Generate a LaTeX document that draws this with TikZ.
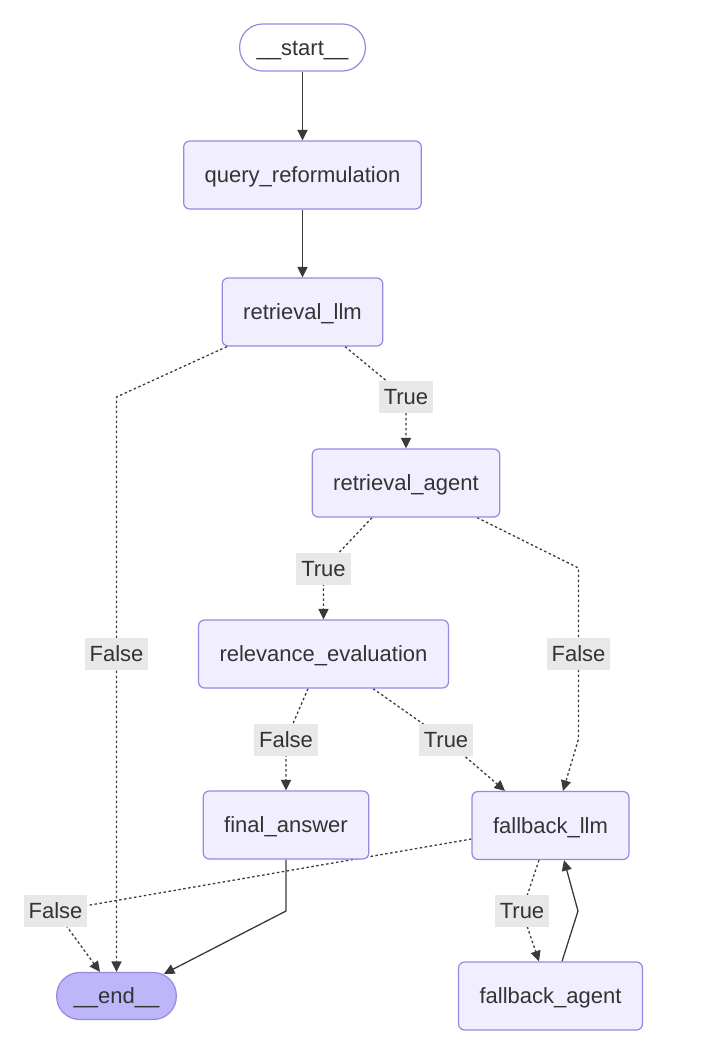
\documentclass[tikz,border=0pt]{standalone}
\usepackage{fontspec}
\setmainfont{Liberation Sans}
\usetikzlibrary{arrows.meta,calc,backgrounds}
\definecolor{nodefill}{HTML}{F1EFFF}
\definecolor{nodedraw}{HTML}{9C86E0}
\definecolor{endfill}{HTML}{BDB6F8}
\definecolor{lblfill}{HTML}{E8E8E8}
\definecolor{txt}{HTML}{333333}
\definecolor{edgecol}{HTML}{3A3A3A}
\begin{document}
\begin{tikzpicture}[x=1pt,y=-1pt,
  font=\fontsize{22}{26}\selectfont, text=txt,
  box/.style={draw=nodedraw, fill=nodefill, line width=1.2pt, rounded corners=6pt,
    minimum height=68pt, inner xsep=21pt, inner ysep=0pt, text height=19pt, text depth=4pt},
  term/.style={draw=nodedraw, line width=1.2pt, rounded corners=23pt,
    minimum height=47pt, inner xsep=17pt, inner ysep=0pt, text height=19pt, text depth=4pt},
  lbl/.style={fill=lblfill, minimum height=32pt, inner xsep=5pt, inner ysep=0pt,
    text height=19pt, text depth=4pt},
  solidedge/.style={draw=edgecol, line width=1.3pt, -{Triangle[length=10.5pt,width=10pt]}},
  dotedge/.style={draw=edgecol, line width=1.3pt, dash pattern=on 2.5pt off 2.5pt,
    -{Triangle[length=10.5pt,width=10pt]}}
]
\useasboundingbox (0,0) rectangle (702,1060);

% nodes
\node[term, fill=white] (start) at (302.5,47.5) {\_\_start\_\_};
\node[box] (qr) at (302.5,175) {query\_reformulation};
\node[box] (rllm) at (302.5,312) {retrieval\_llm};
\node[box] (ragent) at (406,483) {retrieval\_agent};
\node[box] (releval) at (323.5,654) {relevance\_evaluation};
\node[box] (final) at (286,825) {final\_answer};
\node[box] (fbllm) at (550.5,825.5) {fallback\_llm};
\node[box] (fbagent) at (550.5,996) {fallback\_agent};
\node[term, fill=endfill] (endn) at (116.5,996) {\_\_end\_\_};

% edge labels
\node[lbl] (lF1) at (116.5,654) {False};
\node[lbl] (lT1) at (406,397) {True};
\node[lbl] (lT2) at (323.5,569) {True};
\node[lbl] (lF2) at (578.5,654) {False};
\node[lbl] (lF3) at (286,740) {False};
\node[lbl] (lT3) at (446,740) {True};
\node[lbl] (lF4) at (55.5,911) {False};
\node[lbl] (lT4) at (522,911) {True};

% bend points
\coordinate (b1) at (116.5,397);
\coordinate (b2) at (578.5,568);
\coordinate (b3) at (578.5,739);
\coordinate (b4) at (286,911);
\coordinate (b5) at (578,911);

\begin{scope}[on background layer]
\draw[solidedge] (start) -- (qr);
\draw[solidedge] (qr) -- (rllm);
\draw[dotedge] ($(rllm.south)+(-75.5,0)$) -- (b1) -- (lF1.center) -- (endn.north);
\draw[dotedge] ($(rllm.south)+(42.5,0)$) -- (lT1.center) -- (ragent.north);
\draw[dotedge] ($(ragent.south)+(-34,0)$) -- (lT2.center) -- (releval.north);
\draw[dotedge] ($(ragent.south)+(71,0)$) -- (b2) -- (lF2.center) -- (b3) -- ($(fbllm.north)+(12.5,0)$);
\draw[dotedge] ($(releval.south)+(-15.5,0)$) -- (lF3.center) -- (final.north);
\draw[dotedge] ($(releval.south)+(49.5,0)$) -- (lT3.center) -- ($(fbllm.north)+(-45.5,0)$);
\draw[solidedge] (final.south) -- (b4) -- ($(endn.north east)+(-13,2)$);
\draw[dotedge] ($(fbllm.west)+(0,13.5)$) -- (lF4.center) -- ($(endn.north)+(-16.5,0)$);
\draw[dotedge] ($(fbllm.south)+(-11.5,0)$) -- (lT4.center) -- ($(fbagent.north)+(-11.5,0)$);
\draw[solidedge] ($(fbagent.north)+(11.5,0)$) -- (b5) -- ($(fbllm.south)+(13.5,0)$);
\end{scope}
\end{tikzpicture}
\end{document}
